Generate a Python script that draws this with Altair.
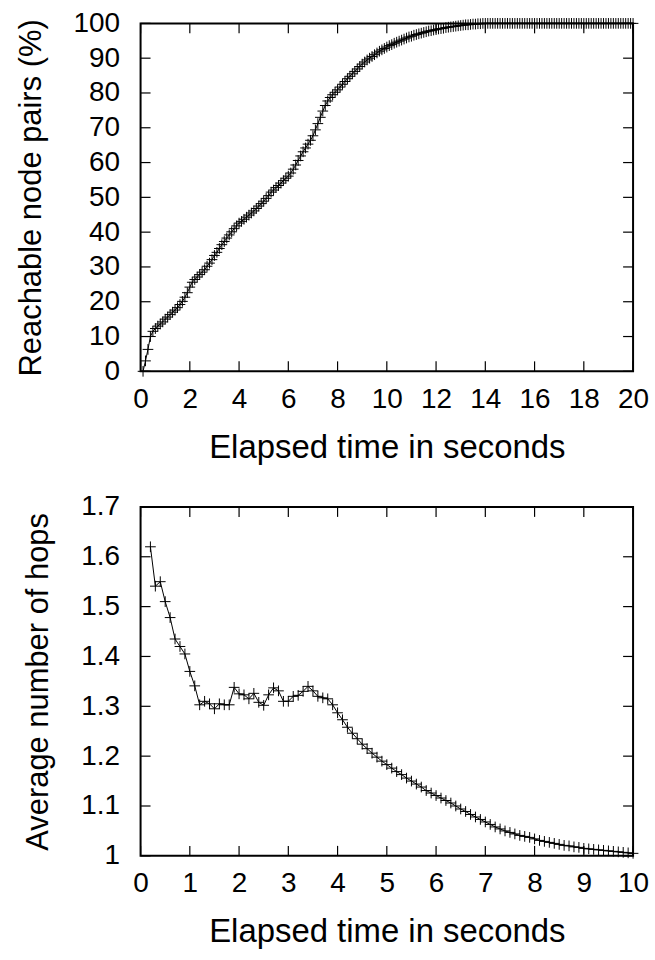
import altair as alt
import pandas as pd

# ---------------- data ----------------
top_time = [round(0.1 * i, 1) for i in range(1, 201)]
top_pairs = [
    0, 3, 6.3, 10, 11.5, 12.3, 13, 13.6, 14.2, 15,
    15.6, 16.3, 17, 17.6, 18.3, 19.2, 20.1, 21.3, 22.6, 24.2,
    25.6, 26.4, 27.1, 27.8, 28.5, 29.2, 30.2, 31.1, 32.1, 33.3,
    34.2, 35.3, 36.4, 37.3, 38.3, 39.2, 40.1, 41, 41.8, 42.6,
    43.1, 43.7, 44.3, 44.9, 45.5, 46.1, 46.8, 47.5, 48.2, 48.9,
    49.7, 50.5, 51.5, 52.1, 52.8, 53.4, 54.1, 54.8, 55.5, 56.1,
    57, 58.1, 59.3, 60.6, 61.9, 63.1, 64.2, 65.3, 66.4, 67.7,
    69.4, 71.2, 73, 74.8, 76.4, 77.7, 78.7, 79.5, 80.2, 80.9,
    81.7, 82.5, 83.3, 84.1, 84.8, 85.5, 86.2, 86.9, 87.6, 88.3,
    88.9, 89.5, 90, 90.5, 91, 91.5, 92, 92.4, 92.8, 93.2,
    93.6, 93.9, 94.3, 94.6, 94.9, 95.2, 95.5, 95.8, 96.1, 96.3,
    96.6, 96.8, 97, 97.2, 97.4, 97.6, 97.8, 97.9, 98.1, 98.2,
    98.4, 98.5, 98.6, 98.8, 98.9, 99, 99.1, 99.2, 99.3, 99.4,
    99.5, 99.6, 99.6, 99.7, 99.8, 99.8, 99.9, 99.9, 100, 100,
    100, 100, 100, 100, 100, 100, 100, 100, 100, 100,
    100, 100, 100, 100, 100, 100, 100, 100, 100, 100,
    100, 100, 100, 100, 100, 100, 100, 100, 100, 100,
    100, 100, 100, 100, 100, 100, 100, 100, 100, 100,
    100, 100, 100, 100, 100, 100, 100, 100, 100, 100,
    100, 100, 100, 100, 100, 100, 100, 100, 100, 100,
]

bottom_time = [round(0.1 * i, 1) for i in range(2, 101)]
bottom_hops = [
    1.62, 1.541, 1.55, 1.51, 1.478, 1.435, 1.42, 1.405,
    1.37, 1.341, 1.303, 1.31, 1.305, 1.295, 1.305, 1.303, 1.303, 1.338,
    1.325, 1.323, 1.315, 1.326, 1.308, 1.302, 1.323, 1.337, 1.331, 1.31,
    1.31, 1.32, 1.322, 1.33, 1.34, 1.331, 1.32, 1.317, 1.315, 1.303,
    1.287, 1.273, 1.258, 1.246, 1.235, 1.224, 1.215, 1.206, 1.198, 1.19,
    1.183, 1.176, 1.169, 1.163, 1.156, 1.15, 1.144, 1.138, 1.131, 1.126,
    1.121, 1.116, 1.111, 1.106, 1.1, 1.094, 1.089, 1.083, 1.078, 1.073,
    1.068, 1.063, 1.058, 1.054, 1.05, 1.047, 1.044, 1.041, 1.039, 1.037,
    1.034, 1.031, 1.029, 1.027, 1.025, 1.023, 1.021, 1.02, 1.018, 1.017,
    1.015, 1.014, 1.013, 1.012, 1.011, 1.01, 1.009, 1.008, 1.007, 1.006,
    1.005,
]

top_xticks = [0, 2, 4, 6, 8, 10, 12, 14, 16, 18, 20]
top_yticks = [0, 10, 20, 30, 40, 50, 60, 70, 80, 90, 100]
bottom_xticks = [0, 1, 2, 3, 4, 5, 6, 7, 8, 9, 10]
bottom_yticks = [1.0, 1.1, 1.2, 1.3, 1.4, 1.5, 1.6, 1.7]

X_TITLE = "Elapsed time in seconds"
TOP_Y_TITLE = "Reachable node pairs (%)"
BOTTOM_Y_TITLE = "Average number of hops"

W = 494
H_TOP = 349
H_BOT = 350
TICK = 10
FONT = "Liberation Sans"
CROSS = "M-1,0L1,0M0,-1L0,1"


def panel(times, values, xdom, ydom, xticks, yticks, ytitle, yfmt, H):
    df = pd.DataFrame({"t": times, "val": values})
    xs = alt.Scale(domain=xdom, nice=False, zero=False)
    ys = alt.Scale(domain=ydom, nice=False, zero=False)
    xaxis = alt.Axis(values=xticks, title=X_TITLE, format="d", ticks=False,
                     domain=False, grid=False, labelFlush=False,
                     labelOverlap=False, labelPadding=14, titlePadding=18,
                     titleFontSize=33)
    yaxis = alt.Axis(values=yticks, title=ytitle, format=yfmt, ticks=False,
                     domain=False, grid=False, labelFlush=False,
                     labelOverlap=False, labelPadding=21, titlePadding=26,
                     titleFontSize=31)
    X = alt.X("t:Q", scale=xs, axis=xaxis)
    Y = alt.Y("val:Q", scale=ys, axis=yaxis)
    line = alt.Chart(df).mark_line(color="black", strokeWidth=1).encode(x=X, y=Y)
    pts = alt.Chart(df).mark_point(
        shape=CROSS, size=115, stroke="black", strokeWidth=1, filled=False,
        opacity=1,
    ).encode(x=X, y=Y)
    xt = pd.DataFrame({"t": xticks})
    yt = pd.DataFrame({"val": yticks})
    tick_style = dict(color="black", strokeWidth=1.2)
    xb = alt.Chart(xt).mark_rule(**tick_style).encode(
        x=X, y=alt.value(H), y2=alt.value(H - TICK))
    xtp = alt.Chart(xt).mark_rule(**tick_style).encode(
        x=X, y=alt.value(0), y2=alt.value(TICK))
    yl = alt.Chart(yt).mark_rule(**tick_style).encode(
        y=Y, x=alt.value(0), x2=alt.value(TICK))
    yr = alt.Chart(yt).mark_rule(**tick_style).encode(
        y=Y, x=alt.value(W - TICK), x2=alt.value(W))
    return alt.layer(line, pts, xb, xtp, yl, yr).properties(width=W, height=H)


top = panel(top_time, top_pairs, [0, 20], [0, 100], top_xticks, top_yticks,
            TOP_Y_TITLE, "d", H_TOP)
bottom = panel(bottom_time, bottom_hops, [0, 10], [1.0, 1.7], bottom_xticks,
               bottom_yticks, BOTTOM_Y_TITLE, "~g", H_BOT)

chart = alt.vconcat(top, bottom, spacing=136, bounds="flush").properties(
    padding={"left": 14, "top": 7, "right": 5, "bottom": 5},
    background="white",
).configure_view(
    stroke="black", strokeWidth=2
).configure_axis(
    labelFont=FONT, labelFontSize=28, labelColor="black",
    titleFont=FONT, titleFontWeight="normal",
    titleColor="black",
)

chart.save("out.html", embed_options={"renderer": "svg", "actions": False})
